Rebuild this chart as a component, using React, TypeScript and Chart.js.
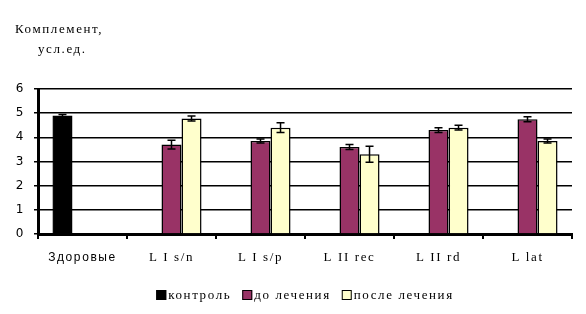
import React, { useEffect, useRef } from "react";
import { Chart, registerables } from "chart.js";
Chart.register(...registerables);

const categories = ["Здоровые", "L I s/n", "L I s/p", "L II rec", "L II rd", "L lat"];
const controlValues = [4.9, null, null, null, null, null];
const controlErrors = [0.05, 0, 0, 0, 0, 0];
const beforeValues = [null, 3.7, 3.85, 3.6, 4.3, 4.75];
const beforeErrors = [0, 0.18, 0.08, 0.1, 0.1, 0.1];
const afterValues = [null, 4.78, 4.4, 3.3, 4.4, 3.85];
const afterErrors = [0, 0.1, 0.2, 0.33, 0.1, 0.08];
const yTicks = [0, 1, 2, 3, 4, 5, 6];
const titleLine1 = "Комплемент,";
const titleLine2 = "усл.ед.";

const SERIF = "'Liberation Serif', 'DejaVu Serif', serif";
const SANS = "'Liberation Sans', 'DejaVu Sans', sans-serif";
const SANS_Y = "'DejaVu Sans', 'Liberation Sans', sans-serif";
const SPACING = "1.6px";

const spacingPlugin = {
  id: "spacing",
  beforeUpdate(chart: any) {
    chart.ctx.letterSpacing = SPACING;
  },
  beforeLayout(chart: any) {
    chart.ctx.letterSpacing = SPACING;
  },
  beforeDraw(chart: any) {
    chart.ctx.letterSpacing = SPACING;
  },
};

const errorBarPlugin = {
  id: "errorBars",
  afterDatasetsDraw(chart: any) {
    const ctx = chart.ctx;
    const yScale = chart.scales.y;
    chart.data.datasets.forEach((ds: any, i: number) => {
      const meta = chart.getDatasetMeta(i);
      const errs: number[] = ds.errors || [];
      meta.data.forEach((bar: any, j: number) => {
        const v = ds.data[j];
        if (v === null || v === undefined) return;
        const e = errs[j] || 0;
        if (!e) return;
        const x = bar.x;
        const yTop = yScale.getPixelForValue(v + e);
        const yBot = yScale.getPixelForValue(v - e);
        ctx.save();
        ctx.strokeStyle = "#000";
        ctx.lineWidth = 1.5;
        ctx.beginPath();
        ctx.moveTo(x, yTop);
        ctx.lineTo(x, yBot);
        ctx.moveTo(x - 4, yTop);
        ctx.lineTo(x + 4, yTop);
        ctx.moveTo(x - 4, yBot);
        ctx.lineTo(x + 4, yBot);
        ctx.stroke();
        ctx.restore();
      });
    });
  },
};

const titleLegendPlugin = {
  id: "titleLegend",
  afterDraw(chart: any) {
    const ctx = chart.ctx;
    ctx.save();
    ctx.letterSpacing = SPACING;
    ctx.fillStyle = "#000";
    ctx.font = `13px ${SERIF}`;
    ctx.textBaseline = "alphabetic";
    ctx.textAlign = "left";
    ctx.fillText(titleLine1, 15, 33);
    ctx.fillText(titleLine2, 38, 53);

    // legend
    const box = 10;
    const boxGap = 2;
    const itemGap = 11;
    const items = chart.data.datasets.map((ds: any) => ({
      label: ds.label,
      color: ds.backgroundColor,
      w: ctx.measureText(ds.label).width,
    }));
    const total =
      items.reduce((s: number, it: any) => s + box + boxGap + it.w, 0) + itemGap * (items.length - 1);
    let x = 305 - total / 2;
    const cy = 295;
    ctx.textBaseline = "middle";
    items.forEach((it: any) => {
      ctx.fillStyle = it.color;
      ctx.fillRect(x, cy - box / 2, box, box);
      ctx.strokeStyle = "#000";
      ctx.lineWidth = 1;
      ctx.strokeRect(x + 0.5, cy - box / 2 + 0.5, box - 1, box - 1);
      ctx.fillStyle = "#000";
      ctx.fillText(it.label, x + box + boxGap, cy + 1);
      x += box + boxGap + it.w + itemGap;
    });
    ctx.restore();
  },
};

export default function App() {
  const ref = useRef<HTMLCanvasElement>(null);
  useEffect(() => {
    if (!ref.current) return;
    const chart = new Chart(ref.current, {
      type: "bar",
      data: {
        labels: categories,
        datasets: [
          {
            label: "контроль",
            data: controlValues,
            errors: controlErrors,
            backgroundColor: "#000000",
            borderColor: "#000000",
            borderWidth: 1.5,
          } as any,
          {
            label: "до лечения",
            data: beforeValues,
            errors: beforeErrors,
            backgroundColor: "#993366",
            borderColor: "#000000",
            borderWidth: 1.5,
          } as any,
          {
            label: "после лечения",
            data: afterValues,
            errors: afterErrors,
            backgroundColor: "#FFFFCC",
            borderColor: "#000000",
            borderWidth: 1.5,
          } as any,
        ],
      },
      options: {
        responsive: false,
        animation: false,
        maintainAspectRatio: false,
        layout: { padding: { top: 89, left: 8, right: 14, bottom: 34 } },
        datasets: {
          bar: { categoryPercentage: 0.675, barPercentage: 1, grouped: true },
        },
        plugins: {
          legend: { display: false },
          tooltip: { enabled: false },
          title: { display: false },
        },
        scales: {
          x: {
            grid: {
              display: true,
              drawOnChartArea: false,
              drawTicks: true,
              tickLength: 5,
              color: "#000",
              lineWidth: 2,
              offset: true,
            },
            border: { color: "#000", width: 3 },
            ticks: {
              color: "#000",
              font: (c: any) =>
                c.index === 0 ? { family: SANS, size: 12 } : { family: SERIF, size: 13 },
              padding: 11,
              maxRotation: 0,
            },
            afterFit: (s: any) => {
              s.height = 46;
            },
          },
          y: {
            min: 0,
            max: 6,
            afterBuildTicks: (s: any) => {
              s.ticks = yTicks.map((v) => ({ value: v }));
            },
            grid: {
              color: "#000",
              lineWidth: 1.5,
              drawTicks: true,
              tickLength: 4,
            },
            border: { color: "#000", width: 3 },
            ticks: { color: "#000", font: { family: SANS_Y, size: 12 }, padding: 9 },
            afterFit: (s: any) => {
              s.width = 30;
            },
          },
        },
      },
      plugins: [spacingPlugin, errorBarPlugin, titleLegendPlugin],
    } as any);
    return () => chart.destroy();
  }, []);
  return (
    <div style={{ position: "absolute", left: 0, top: 0, width: 586, height: 314, background: "#fff" }}>
      <canvas ref={ref} width={586} height={314} style={{ width: 586, height: 314 }} />
    </div>
  );
}
